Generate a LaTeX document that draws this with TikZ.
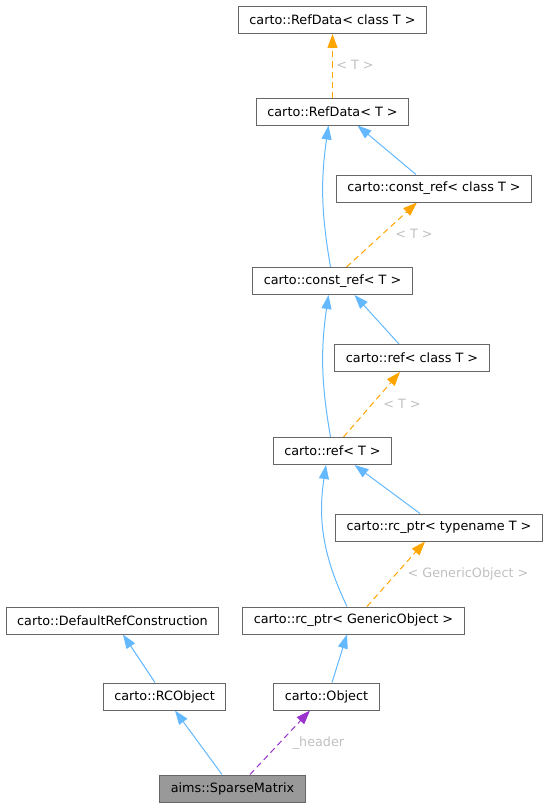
\documentclass[tikz,border=0pt]{standalone}
\usepackage{fontspec}
\setmainfont{DejaVu Sans}
\usetikzlibrary{positioning, arrows.meta, backgrounds}
\definecolor{inhblue}{HTML}{63B8FF}
\definecolor{tmplorange}{HTML}{FFA500}
\definecolor{usepurple}{HTML}{9A32CD}
\definecolor{boxgray}{HTML}{666666}
\definecolor{labelgray}{HTML}{C0C0C0}
\definecolor{focusgray}{HTML}{999999}
\tikzset{
  cls/.style={draw=boxgray, line width=1pt, fill=white, font=\fontsize{12.8}{15}\selectfont, minimum height=27pt, inner xsep=11pt, inner ysep=0pt},
  focus/.style={cls, fill=focusgray},
  lbl/.style={font=\fontsize{12.8}{15}\selectfont, text=labelgray, inner sep=0pt},
  inherit/.style={-{Triangle[length=14pt, width=10pt]}, line width=1pt, draw=inhblue},
  tmpl/.style={-{Triangle[length=14pt, width=10pt]}, line width=1pt, draw=tmplorange, dash pattern=on 6pt off 4pt},
  usage/.style={-{Triangle[length=14pt, width=10pt]}, line width=1pt, draw=usepurple, dash pattern=on 6pt off 4pt},
}

\begin{document}
\begin{tikzpicture}[x=1pt, y=-1pt]
  \useasboundingbox (0,0) rectangle (548,808);

  % Template chain (right column)
  \node[cls] (rdc) at (332.5,20) {carto::RefData< class T >};
  \node[cls] (rdT) at (332.5,111.5) {carto::RefData< T >};
  \node[cls] (crefc) at (434,188.5) {carto::const\_ref< class T >};
  \node[cls] (crefT) at (332.5,281) {carto::const\_ref< T >};
  \node[cls] (refc) at (412,358) {carto::ref< class T >};
  \node[cls] (refT) at (332.5,451) {carto::ref< T >};
  \node[cls] (rcpt) at (439,527.5) {carto::rc\_ptr< typename T >};
  \node[cls] (rcpg) at (353.5,620.5) {carto::rc\_ptr< GenericObject >};

  % Bottom rows
  \node[cls] (drc) at (112.5,620.5) {carto::DefaultRefConstruction};
  \node[cls] (rco) at (164.5,696.5) {carto::RCObject};
  \node[cls] (obj) at (326.5,696.5) {carto::Object};
  \node[focus] (spm) at (232.5,788.5) {aims::SparseMatrix};

  % Edge labels
  \node[lbl] (lblrd) at (355,65) {< T >};
  \node[lbl] (lblcref) at (414,234) {< T >};
  \node[lbl] (lblref) at (402,404) {< T >};
  \node[lbl] (lblrcp) at (468,574) {< GenericObject >};
  \node[lbl] (lblhdr) at (318.5,743) {\_header};

  % Edges
  \begin{pgfonlayer}{background}
    \draw[tmpl] (rdT.north) -- (rdc.south);
    \draw[inherit] ([xshift=-18pt]crefc.north) -- ([xshift=25pt]rdT.south);
    \draw[inherit] ([xshift=-2pt]crefT.north) to[bend left=9] ([xshift=-4pt]rdT.south);
    \draw[tmpl] ([xshift=14pt]crefT.north) -- ([xshift=-17pt]crefc.south);
    \draw[inherit] ([xshift=-13pt]refc.north) -- ([xshift=22pt]crefT.south);
    \draw[inherit] ([xshift=-2pt]refT.north) to[bend left=9] ([xshift=-4pt]crefT.south);
    \draw[tmpl] ([xshift=11pt]refT.north) -- ([xshift=-12pt]refc.south);
    \draw[inherit] ([xshift=-19pt]rcpt.north) -- ([xshift=22pt]refT.south);
    \draw[inherit] ([xshift=-6.5pt]rcpg.north) to[bend left=17] ([xshift=-6.5pt]refT.south);
    \draw[tmpl] ([xshift=13.5pt]rcpg.north) -- ([xshift=-14pt]rcpt.south);
    \draw[inherit] ([xshift=5.5pt]obj.north) -- ([xshift=-6.5pt]rcpg.south);
    \draw[inherit] ([xshift=-9.5pt]rco.north) -- ([xshift=10.5pt]drc.south);
    \draw[inherit] ([xshift=-10.5pt]spm.north) -- ([xshift=10.5pt]rco.south);
    \draw[usage] ([xshift=17.5pt]spm.north) -- ([xshift=-16.5pt]obj.south);
  \end{pgfonlayer}
\end{tikzpicture}
\end{document}
